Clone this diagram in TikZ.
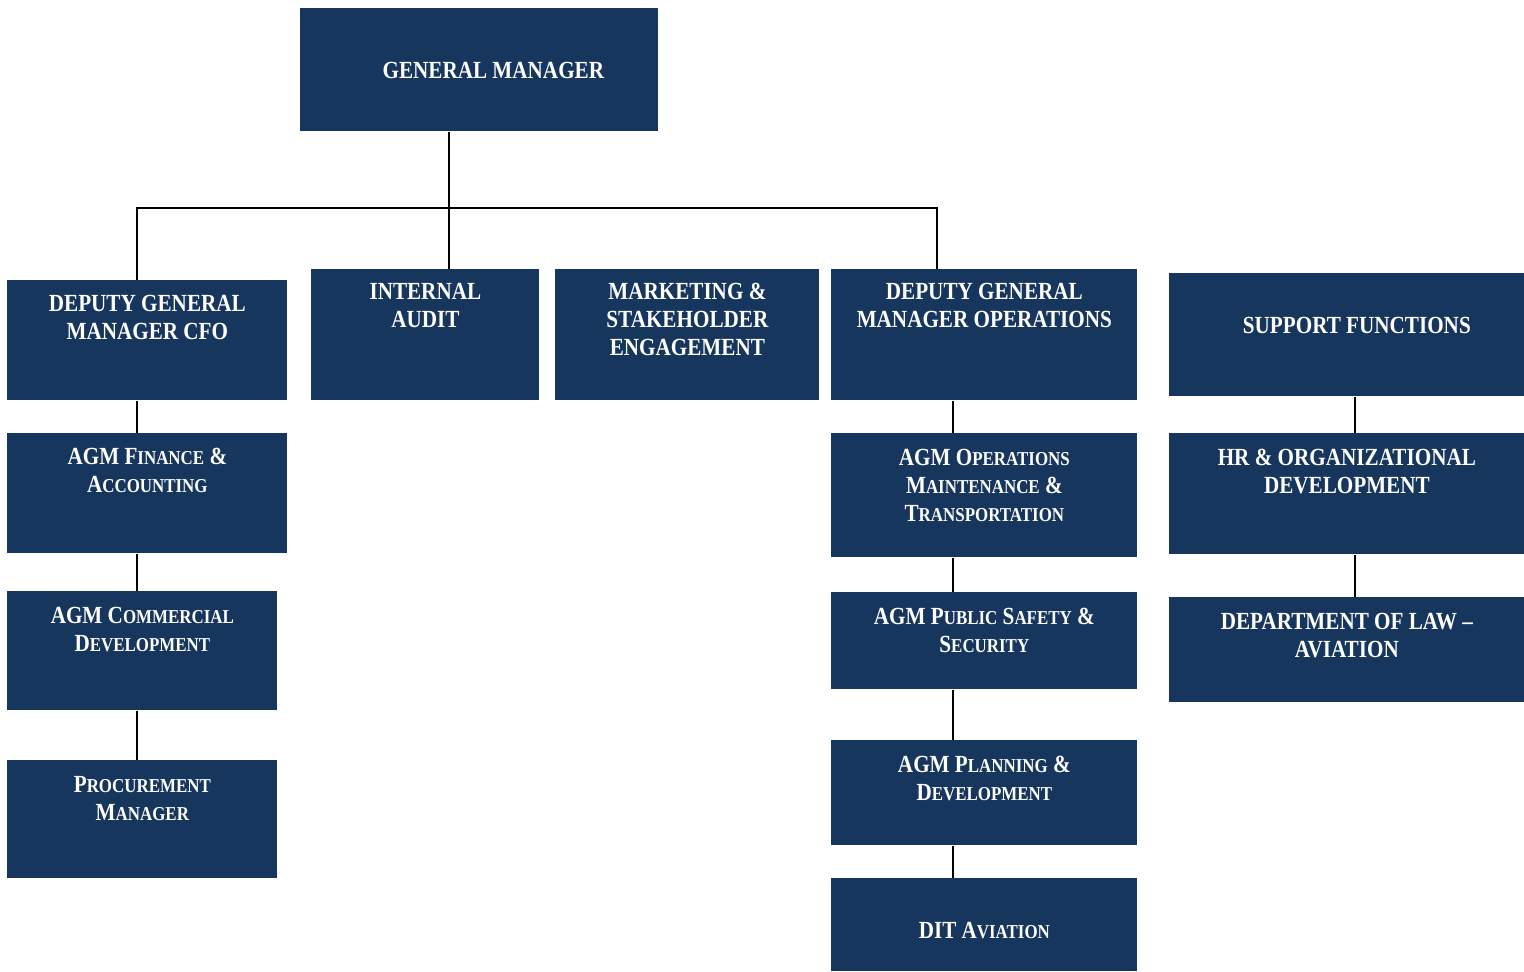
\documentclass[tikz,border=0pt]{standalone}
\usepackage{fontspec}
\setmainfont[FakeStretch=0.86]{Liberation Serif}
\definecolor{navy}{HTML}{17365D}
\newdimen\pxu \pxu=0.02cm
% box text: width, height, top padding (all in px), text
\newcommand\unittext[4]{\parbox[t][#2\pxu][t]{#1\pxu}{\centering\vspace*{#3\pxu}#4}}
\newcommand\smc[1]{{\fontsize{11.2}{16}\selectfont #1}}
\tikzset{
  unit/.style={fill=navy, text=white, inner sep=0pt, anchor=north west,
    font=\fontsize{14}{16}\selectfont\bfseries},
  link/.style={line width=1.1pt, black}
}
\begin{document}
\begin{tikzpicture}[x=0.02cm, y=-0.02cm]
  \useasboundingbox (0,0) rectangle (1524,971);
  \node[unit] (gm) at (300,8) {\unittext{358}{123}{54}{\hspace*{28\pxu}GENERAL MANAGER}};
  \node[unit] (cfo) at (7,280) {\unittext{280}{120}{15}{DEPUTY GENERAL\\MANAGER CFO}};
  \node[unit] (audit) at (311,269) {\unittext{228}{131}{14}{INTERNAL\\AUDIT}};
  \node[unit] (mkt) at (555,269) {\unittext{264}{131}{14}{MARKETING \&\\STAKEHOLDER\\ENGAGEMENT}};
  \node[unit] (dgmops) at (831,269) {\unittext{306}{131}{14}{DEPUTY GENERAL\\MANAGER OPERATIONS}};
  \node[unit] (support) at (1169,273) {\unittext{355}{123}{44}{\hspace*{20\pxu}SUPPORT FUNCTIONS}};
  % finance column
  \node[unit] (fin) at (7,433) {\unittext{280}{120}{15}{AGM F\smc{INANCE} \&\\A\smc{CCOUNTING}}};
  \node[unit] (comm) at (7,591) {\unittext{270}{119}{16}{AGM C\smc{OMMERCIAL}\\D\smc{EVELOPMENT}}};
  \node[unit] (proc) at (7,760) {\unittext{270}{118}{16}{P\smc{ROCUREMENT}\\M\smc{ANAGER}}};
  % operations column
  \node[unit] (agmops) at (831,433) {\unittext{306}{124}{16}{AGM O\smc{PERATIONS}\\M\smc{AINTENANCE} \&\\T\smc{RANSPORTATION}}};
  \node[unit] (safety) at (831,592) {\unittext{306}{97}{16}{AGM P\smc{UBLIC} S\smc{AFETY} \&\\S\smc{ECURITY}}};
  \node[unit] (plan) at (831,740) {\unittext{306}{105}{16}{AGM P\smc{LANNING} \&\\D\smc{EVELOPMENT}}};
  \node[unit] (dit) at (831,878) {\unittext{306}{93}{44}{DIT A\smc{VIATION}}};
  % support column
  \node[unit] (hr) at (1169,433) {\unittext{355}{121}{16}{HR \& ORGANIZATIONAL\\DEVELOPMENT}};
  \node[unit] (law) at (1169,597) {\unittext{355}{105}{16}{DEPARTMENT OF LAW --\\AVIATION}};

  \coordinate (busL) at (137,208);
  \coordinate (busM) at (449,208);
  \coordinate (busR) at (937,208);
  \coordinate (opsx) at (953,0);
  \coordinate (supx) at (1355,0);
  \draw[link] (gm.south -| busM) -- (audit.north -| busM);
  \draw[link] (busL |- cfo.north) -- (busL) -- (busR) -- (busR |- dgmops.north);
  \draw[link] (cfo.south -| busL) -- (fin.north -| busL);
  \draw[link] (fin.south -| busL) -- (comm.north -| busL);
  \draw[link] (comm.south -| busL) -- (proc.north -| busL);
  \draw[link] (dgmops.south -| opsx) -- (agmops.north -| opsx);
  \draw[link] (agmops.south -| opsx) -- (safety.north -| opsx);
  \draw[link] (safety.south -| opsx) -- (plan.north -| opsx);
  \draw[link] (plan.south -| opsx) -- (dit.north -| opsx);
  \draw[link] (support.south -| supx) -- (hr.north -| supx);
  \draw[link] (hr.south -| supx) -- (law.north -| supx);
\end{tikzpicture}
\end{document}
